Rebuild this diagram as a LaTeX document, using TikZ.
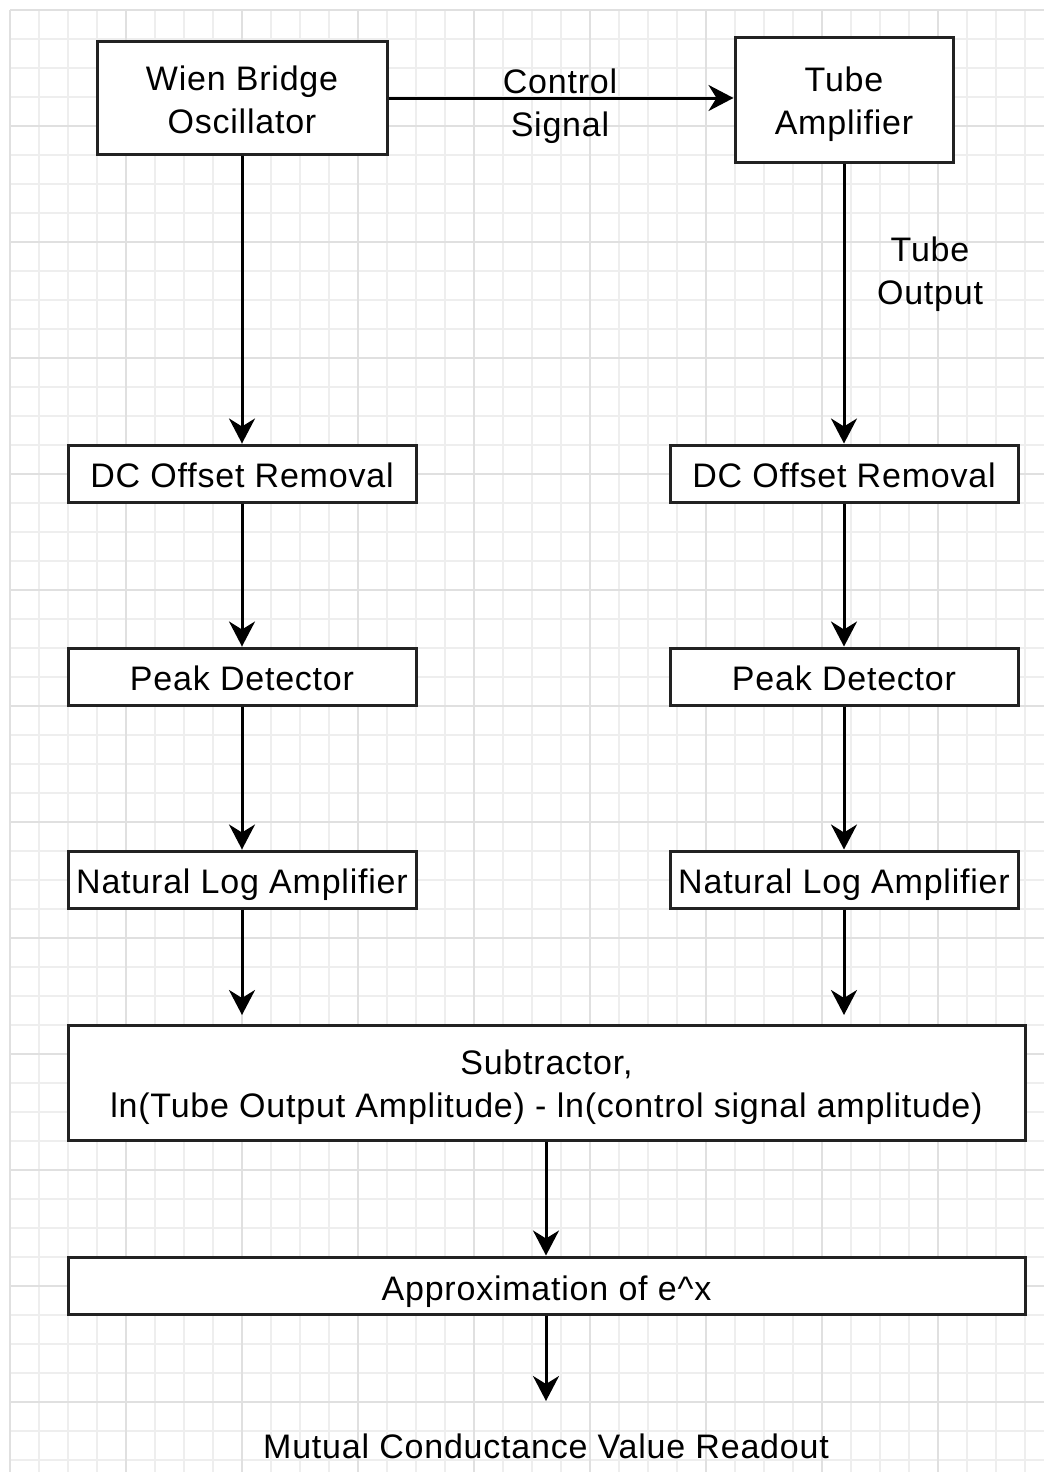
\documentclass[tikz,border=0pt]{standalone}
\usepackage{fontspec}
\setmainfont[LetterSpace=2.3]{Liberation Sans}
\usetikzlibrary{arrows.meta}
\definecolor{gridminor}{HTML}{EEEEEE}
\definecolor{gridmajor}{HTML}{E0E0E0}
\definecolor{boxline}{HTML}{222222}
\newcommand{\boxtxt}[2][0pt]{\raisebox{-#1}[\height][\depth]{\begin{tabular}{@{}c@{}}#2\end{tabular}}}
\tikzset{
  blk/.style={draw=boxline, line width=3pt, fill=white, rectangle, inner sep=0pt,
    font=\fontsize{34}{43}\selectfont},
  lbl/.style={inner sep=0pt, font=\fontsize{34}{43}\selectfont},
  conn/.style={draw=black, line width=3pt, -{Stealth[length=25pt,width=26pt,inset=8pt]}},
}
\begin{document}
\begin{tikzpicture}[x=1pt,y=-1pt]
\useasboundingbox (0,0) rectangle (1044,1472);
\fill[white] (0,0) rectangle (1044,1472);
% grid
\foreach \i in {0,...,35} {
  \pgfmathsetmacro{\xx}{10+29*\i}
  \draw[gridminor, line width=1.3pt] (\xx,10) -- (\xx,1472);
}
\foreach \i in {0,...,50} {
  \pgfmathsetmacro{\yy}{10+29*\i}
  \draw[gridminor, line width=1.3pt] (10,\yy) -- (1044,\yy);
}
\foreach \i in {0,...,8} {
  \pgfmathsetmacro{\xx}{10+116*\i}
  \draw[gridmajor, line width=1.5pt] (\xx,10) -- (\xx,1472);
}
\foreach \i in {0,...,12} {
  \pgfmathsetmacro{\yy}{10+116*\i}
  \draw[gridmajor, line width=1.5pt] (10,\yy) -- (1044,\yy);
}
% blocks
\node[blk, minimum width=290pt, minimum height=112pt] (wien) at (242,98) {\boxtxt[5.5pt]{Wien Bridge\\Oscillator}};
\node[blk, minimum width=218pt, minimum height=124pt] (tube) at (844,100) {\boxtxt[4pt]{Tube\\Amplifier}};
\node[blk, minimum width=348pt, minimum height=57pt] (dcl) at (242,473.5) {\boxtxt[5pt]{DC Offset Removal}};
\node[blk, minimum width=348pt, minimum height=57pt] (dcr) at (844,473.5) {\boxtxt[5pt]{DC Offset Removal}};
\node[blk, minimum width=348pt, minimum height=57pt] (pkl) at (242,676.5) {\boxtxt[5pt]{Peak Detector}};
\node[blk, minimum width=348pt, minimum height=57pt] (pkr) at (844,676.5) {\boxtxt[5pt]{Peak Detector}};
\node[blk, minimum width=348pt, minimum height=57pt] (nll) at (242,879.5) {\boxtxt[5pt]{Natural Log Amplifier}};
\node[blk, minimum width=348pt, minimum height=57pt] (nlr) at (844,879.5) {\boxtxt[5pt]{Natural Log Amplifier}};
\node[blk, minimum width=957pt, minimum height=115pt] (sub) at (546.5,1082.5) {\boxtxt[4.5pt]{Subtractor,\\ln(Tube Output Amplitude) - ln(control signal amplitude)}};
\node[blk, minimum width=957pt, minimum height=57pt] (app) at (546.5,1285.5) {\boxtxt[6.5pt]{Approximation of e\textasciicircum x}};
\node[lbl] (out) at (546,1446) {Mutual Conductance Value Readout};
% labels
\node[lbl] (ctl) at (560,103) {\boxtxt[3pt]{Control\\Signal}};
\node[lbl] (tol) at (930,271) {\boxtxt[3.5pt]{Tube\\Output}};
% free ends
\coordinate (sl) at (242,1015);
\coordinate (sr) at (844,1015);
\coordinate (ro) at (546,1401);
% connectors
\draw[conn] (wien.east) -- (wien.east -| tube.west);
\draw[conn] (wien.south) -- (dcl.north);
\draw[conn] (tube.south) -- (dcr.north);
\draw[conn] (dcl.south) -- (pkl.north);
\draw[conn] (dcr.south) -- (pkr.north);
\draw[conn] (pkl.south) -- (nll.north);
\draw[conn] (pkr.south) -- (nlr.north);
\draw[conn] (nll.south) -- (sl);
\draw[conn] (nlr.south) -- (sr);
\draw[conn] (sub.south -| ro) -- (app.north -| ro);
\draw[conn] (app.south -| ro) -- (ro);
\end{tikzpicture}
\end{document}
